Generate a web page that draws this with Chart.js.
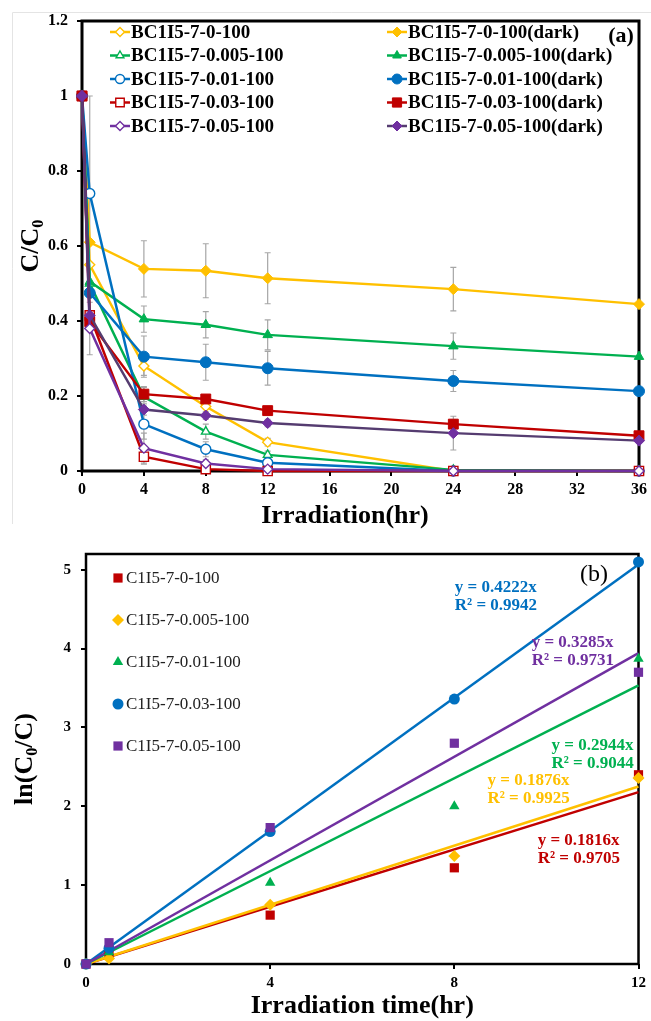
<!DOCTYPE html>
<html>
<head>
<meta charset="utf-8">
<script src="https://cdn.jsdelivr.net/npm/chart.js@4.4.1/dist/chart.umd.min.js"></script>
<style>
body { margin: 0; background: #fff; width: 651px; height: 1021px; overflow: hidden; position: relative; }
canvas { position: absolute; left: 0; }
#chartA { top: 0; }
#chartB { top: 530px; }
</style>
</head>
<body>
<canvas id="chartA" width="651" height="530"></canvas>
<canvas id="chartB" width="651" height="491"></canvas>
<script>
const SERIF = "'Liberation Serif', 'Times New Roman', serif";

// ---- (a) C/C0 vs irradiation ----
const timeA = [0, 0.5, 4, 8, 12, 24, 36];
const namesA = ['BC1I5-7-0-100', 'BC1I5-7-0.005-100', 'BC1I5-7-0.01-100', 'BC1I5-7-0.03-100', 'BC1I5-7-0.05-100'];
const light0 = [1, 0.55, 0.28, 0.172, 0.077, 0, 0];
const light005 = [1, 0.5, 0.198, 0.105, 0.043, 0.003, 0];
const light01 = [1, 0.74, 0.125, 0.058, 0.022, 0, 0];
const light03 = [1, 0.415, 0.038, 0.005, 0, 0, 0];
const light05 = [1, 0.38, 0.061, 0.02, 0.005, 0, 0];
const dark0 = [1, 0.61, 0.539, 0.534, 0.514, 0.485, 0.445];
const dark005 = [1, 0.505, 0.405, 0.39, 0.363, 0.333, 0.305];
const dark01 = [1, 0.475, 0.305, 0.29, 0.274, 0.24, 0.213];
const dark03 = [1, 0.398, 0.205, 0.192, 0.161, 0.125, 0.094];
const dark05 = [1, 0.415, 0.164, 0.148, 0.128, 0.101, 0.081];
// error bar half-widths (0 = none)
const lightErr0 = [0, 0, 0.025, 0.02, 0.01, 0, 0];
const lightErr005 = [0, 0, 0.025, 0.02, 0.01, 0, 0];
const lightErr01 = [0, 0.26, 0.04, 0.02, 0.01, 0, 0];
const lightErr03 = [0, 0, 0.02, 0, 0, 0, 0];
const lightErr05 = [0, 0.07, 0.04, 0.01, 0, 0, 0];
const darkErr0 = [0, 0, 0.075, 0.072, 0.068, 0.058, 0];
const darkErr005 = [0, 0, 0.035, 0.035, 0.04, 0.035, 0];
const darkErr01 = [0, 0, 0.055, 0.048, 0.045, 0.028, 0];
const darkErr03 = [0, 0, 0.02, 0, 0, 0.012, 0];
const darkErr05 = [0, 0, 0.015, 0.01, 0.01, 0.045, 0];

const lightVals = [light0, light005, light01, light03, light05];
const darkVals = [dark0, dark005, dark01, dark03, dark05];
const lightErrs = [lightErr0, lightErr005, lightErr01, lightErr03, lightErr05];
const darkErrs = [darkErr0, darkErr005, darkErr01, darkErr03, darkErr05];

// ---- (b) ln(C0/C) vs irradiation time ----
const timeB = [0, 0.5, 4, 8, 12];
const namesB = ['C1I5-7-0-100', 'C1I5-7-0.005-100', 'C1I5-7-0.01-100', 'C1I5-7-0.03-100', 'C1I5-7-0.05-100'];
const kin0 = [0, 0.12, 0.62, 1.22, 2.4];
const kin005 = [0, 0.07, 0.75, 1.37, 2.36];
const kin01 = [0, 0.15, 1.03, 2.0, 3.87];
const kin03 = [0, 0.2, 1.68, 3.36, 5.1];
const kin05 = [0, 0.27, 1.73, 2.8, 3.7];
const slopes = [0.1816, 0.1876, 0.2944, 0.4222, 0.3285];
const rSquared = ['0.9705', '0.9925', '0.9044', '0.9942', '0.9731'];
const kinVals = [kin0, kin005, kin01, kin03, kin05];
const yTicksB = [0, 1, 2, 3, 4, 5];

const colors = ['#FFC000', '#00B050', '#0070C0', '#C00000', '#7030A0'];
const darkLines = ['#FFC000', '#00B050', '#0070C0', '#C00000', '#553C70'];
const stylesA = ['rectRot', 'triangle', 'circle', 'rect', 'rectRot'];
const colorsB = ['#C00000', '#FFC000', '#00B050', '#0070C0', '#7030A0'];
const stylesB = ['rect', 'rectRot', 'triangle', 'circle', 'rect'];

function pts(xs, ys) { return xs.map((x, i) => ({ x: x, y: ys[i] })); }

// draw text with a subscript part, centred at 0,0 of current transform
function subText(ctx, parts, size) {
  let w = 0;
  parts.forEach(p => {
    ctx.font = 'bold ' + (p.sub ? size * 0.62 : size) + 'px ' + SERIF;
    p.w = ctx.measureText(p.t).width;
    w += p.w;
  });
  let x = -w / 2;
  ctx.textAlign = 'left';
  ctx.textBaseline = 'middle';
  parts.forEach(p => {
    ctx.font = 'bold ' + (p.sub ? size * 0.62 : size) + 'px ' + SERIF;
    ctx.fillText(p.t, x, p.sub ? size * 0.3 : 0);
    x += p.w;
  });
}

const framePlugin = {
  id: 'frame',
  beforeDatasetsDraw(chart, args, opts) {
    const a = chart.chartArea, ctx = chart.ctx;
    ctx.save();
    ctx.strokeStyle = '#000';
    ctx.lineWidth = opts.width;
    ctx.strokeRect(a.left, a.top, a.right - a.left, a.bottom - a.top);
    ctx.restore();
  }
};

const errorBars = {
  id: 'errorBars',
  beforeDatasetsDraw(chart) {
    const ctx = chart.ctx, xs = chart.scales.x, ys = chart.scales.y;
    ctx.save();
    ctx.strokeStyle = '#A6A6A6';
    ctx.lineWidth = 1.2;
    chart.data.datasets.forEach(ds => {
      if (!ds.err) return;
      ds.data.forEach((p, i) => {
        const e = ds.err[i];
        if (!e) return;
        const x = xs.getPixelForValue(p.x);
        const y1 = ys.getPixelForValue(Math.min(1.2, p.y + e));
        const y2 = ys.getPixelForValue(Math.max(0, p.y - e));
        ctx.beginPath();
        ctx.moveTo(x, y1); ctx.lineTo(x, y2);
        ctx.moveTo(x - 3, y1); ctx.lineTo(x + 3, y1);
        ctx.moveTo(x - 3, y2); ctx.lineTo(x + 3, y2);
        ctx.stroke();
      });
    });
    ctx.restore();
  }
};

const decorA = {
  id: 'decorA',
  afterDraw(chart) {
    const ctx = chart.ctx, a = chart.chartArea;
    ctx.save();
    // faint outer chart border
    ctx.strokeStyle = '#E4E4E4';
    ctx.lineWidth = 1;
    ctx.beginPath();
    ctx.moveTo(12.5, 524); ctx.lineTo(12.5, 12.5); ctx.lineTo(651, 12.5);
    ctx.stroke();
    // legend
    ctx.font = 'bold 19px ' + SERIF;
    ctx.textBaseline = 'middle';
    chart.data.datasets.forEach((ds, k) => {
      const col = k % 2, row = Math.floor(k / 2);
      const x0 = col ? 387 : 110;
      const y = a.top + 11 + row * 23.5;
      ctx.strokeStyle = ds.borderColor;
      ctx.lineWidth = 2.5;
      ctx.beginPath(); ctx.moveTo(x0, y); ctx.lineTo(x0 + 20, y); ctx.stroke();
      ctx.fillStyle = ds.pointBackgroundColor;
      ctx.strokeStyle = ds.pointBorderColor;
      ctx.lineWidth = ds.pointBorderWidth;
      Chart.helpers.drawPoint(ctx, { pointStyle: ds.pointStyle, radius: ds.pointRadius - 0.5, borderWidth: ds.pointBorderWidth, rotation: 0 }, x0 + 10, y);
      ctx.fillStyle = '#000';
      ctx.textAlign = 'left';
      ctx.fillText(ds.label, x0 + 21, y + 1);
    });
    // panel label
    ctx.font = 'bold 22px ' + SERIF;
    ctx.textAlign = 'center';
    ctx.fillText('(a)', 621, a.top + 15);
    // axis titles
    ctx.font = 'bold 26px ' + SERIF;
    ctx.fillText('Irradiation(hr)', 345, 516);
    ctx.translate(31, (a.top + a.bottom) / 2);
    ctx.rotate(-Math.PI / 2);
    subText(ctx, [{ t: 'C/C' }, { t: '0', sub: true }], 26);
    ctx.restore();
  }
};

const decorB = {
  id: 'decorB',
  afterDraw(chart) {
    const ctx = chart.ctx, a = chart.chartArea, xs = chart.scales.x, ys = chart.scales.y;
    ctx.save();
    // legend (markers only)
    ctx.font = '17px ' + SERIF;
    ctx.textBaseline = 'middle';
    ctx.textAlign = 'left';
    for (let i = 0; i < 5; i++) {
      const ds = chart.data.datasets[i];
      const y = a.top + 24 + i * 42;
      ctx.fillStyle = ds.pointBackgroundColor;
      ctx.strokeStyle = ds.pointBorderColor;
      Chart.helpers.drawPoint(ctx, { pointStyle: ds.pointStyle, radius: ds.pointRadius, borderWidth: 0, rotation: 0 }, 118, y);
      ctx.fillStyle = '#222';
      ctx.fillText(ds.label, 126, y + 1);
    }
    // trend line equations
    const eqPos = [[9.81, 1.565], [8.72, 2.32], [10.11, 2.77], [8.01, 4.78], [9.68, 4.07]];
    ctx.font = 'bold 17px ' + SERIF;
    eqPos.forEach((p, i) => {
      const x = xs.getPixelForValue(p[0]), y = ys.getPixelForValue(p[1]);
      ctx.fillStyle = colorsB[i];
      ctx.fillText('y = ' + slopes[i].toFixed(4) + 'x', x, y);
      ctx.fillText('R\u00B2 = ' + rSquared[i], x, y + 18);
    });
    // panel label
    ctx.fillStyle = '#000';
    ctx.font = '24px ' + SERIF;
    ctx.textAlign = 'center';
    ctx.fillText('(b)', 594, a.top + 21);
    // axis titles
    ctx.font = 'bold 26px ' + SERIF;
    ctx.fillText('Irradiation time(hr)', (a.left + a.right) / 2, 476);
    ctx.translate(25, (a.top + a.bottom) / 2);
    ctx.rotate(-Math.PI / 2);
    subText(ctx, [{ t: 'ln(C' }, { t: '0', sub: true }, { t: '/C)' }], 26);
    ctx.restore();
  }
};

function linAxis(min, max, step, size, pad, fit, isX) {
  return {
    type: 'linear',
    position: isX ? 'bottom' : 'left',
    min: min, max: max,
    ticks: {
      stepSize: step, color: '#000', padding: pad, autoSkip: false, maxRotation: 0,
      font: { family: SERIF, size: size, weight: 'bold' },
      callback: v => String(+v.toFixed(1))
    },
    grid: { drawOnChartArea: false, color: '#000', lineWidth: 2, tickLength: 5 },
    border: { display: false },
    afterFit: s => { if (isX) s.height = fit; else s.width = fit; }
  };
}

// chart (a): later series are drawn on top
const dsA = [];
for (let i = 0; i < 5; i++) {
  dsA.push({
    label: namesA[i], data: pts(timeA, lightVals[i]), err: lightErrs[i], order: 20 - 2 * i,
    borderColor: colors[i], borderWidth: 2.5, pointStyle: stylesA[i],
    pointBackgroundColor: '#fff', pointBorderColor: colors[i], pointBorderWidth: 1.4,
    pointRadius: stylesA[i] === 'rect' ? 6.5 : 5, clip: false
  });
  dsA.push({
    label: namesA[i] + '(dark)', data: pts(timeA, darkVals[i]), err: darkErrs[i], order: 19 - 2 * i,
    borderColor: darkLines[i], borderWidth: 2.5, pointStyle: stylesA[i],
    pointBackgroundColor: colors[i], pointBorderColor: colors[i], pointBorderWidth: 1,
    pointRadius: stylesA[i] === 'rect' ? 7 : 5.5, clip: false
  });
}

new Chart(document.getElementById('chartA'), {
  type: 'line',
  data: { datasets: dsA },
  options: {
    responsive: false, animation: false,
    layout: { padding: { top: 21, right: 11, left: 0, bottom: 0 } },
    plugins: { legend: { display: false }, tooltip: { enabled: false }, frame: { width: 3 } },
    elements: { line: { tension: 0 } },
    scales: {
      x: linAxis(0, 36, 4, 16, 4, 59, true),
      y: linAxis(0, 1.2, 0.2, 16, 9, 82, false)
    }
  },
  plugins: [framePlugin, errorBars, decorA]
});

// chart (b)
const dsB = [];
for (let i = 0; i < 5; i++) {
  dsB.push({
    label: namesB[i], data: pts(timeB, kinVals[i]), showLine: false, order: 10 - i,
    pointStyle: stylesB[i], pointBackgroundColor: colorsB[i], pointBorderColor: colorsB[i],
    pointBorderWidth: 0, pointRadius: stylesB[i] === 'rect' ? 6.5 : (stylesB[i] === 'circle' ? 5.5 : 6), clip: false
  });
}
for (let i = 0; i < 5; i++) {
  dsB.push({
    label: 'trend ' + namesB[i], data: [{ x: 0, y: 0 }, { x: 12, y: slopes[i] * 12 }], order: 20 - i,
    borderColor: colorsB[i], borderWidth: 2.5, pointRadius: 0, clip: false
  });
}

const axisBX = linAxis(0, 12, 4, 15, 5, 57, true);
const axisBY = linAxis(0, 5.2, 1, 15, 10, 86, false);
axisBY.afterBuildTicks = s => { s.ticks = yTicksB.map(v => ({ value: v })); };

new Chart(document.getElementById('chartB'), {
  type: 'line',
  data: { datasets: dsB },
  options: {
    responsive: false, animation: false,
    layout: { padding: { top: 24, right: 12, left: 0, bottom: 0 } },
    plugins: { legend: { display: false }, tooltip: { enabled: false }, frame: { width: 2.5 } },
    scales: { x: axisBX, y: axisBY }
  },
  plugins: [framePlugin, decorB]
});
</script>
</body>
</html>
